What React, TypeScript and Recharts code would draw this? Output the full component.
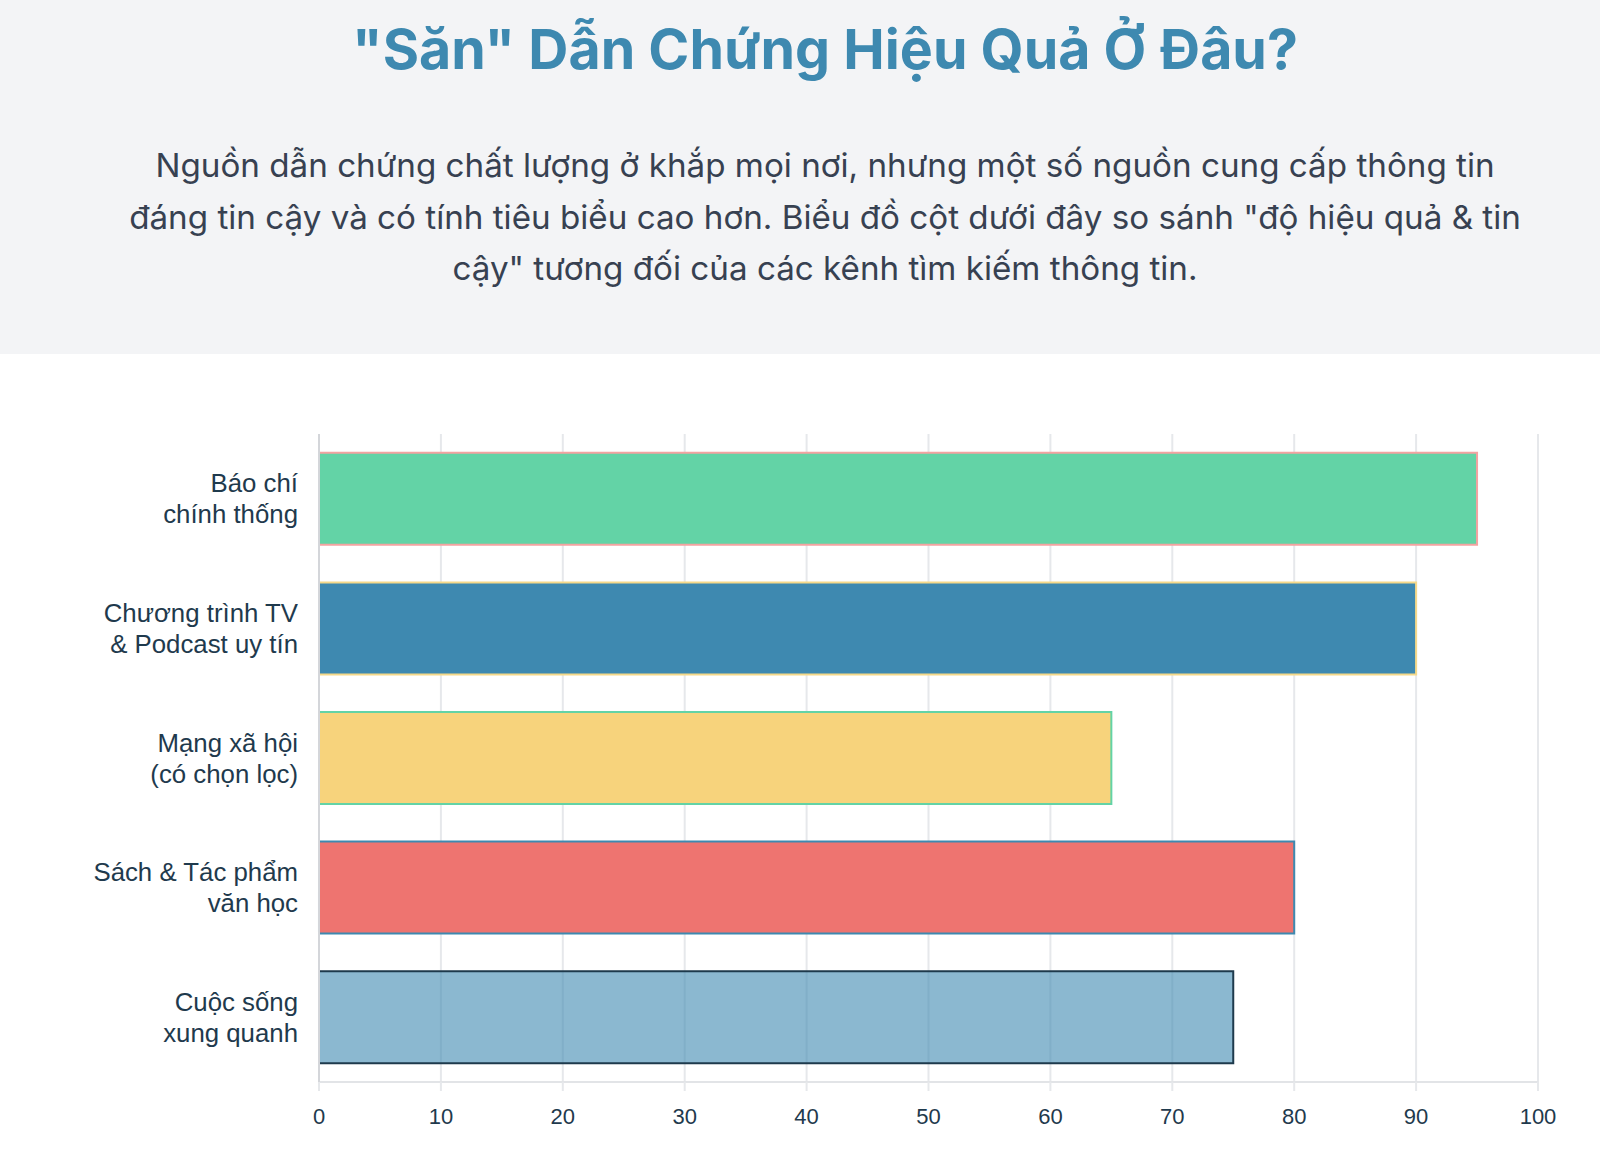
import React from "react";
import { BarChart, Bar, XAxis, YAxis, CartesianGrid, Cell } from "recharts";

const categories: string[][] = [
  ["Báo chí", "chính thống"],
  ["Chương trình TV", "& Podcast uy tín"],
  ["Mạng xã hội", "(có chọn lọc)"],
  ["Sách & Tác phẩm", "văn học"],
  ["Cuộc sống", "xung quanh"],
];
const scores: number[] = [95, 90, 65, 80, 75];
const fillColors: string[] = ["#63d3a6", "#3e89b0", "#f7d37c", "#ee7470", "rgba(62,137,176,0.6)"];
const strokeColors: string[] = ["#f4a3a1", "#f5d98a", "#63d3a6", "#3e89b0", "#1e3a4c"];
const xTicks: number[] = [0, 10, 20, 30, 40, 50, 60, 70, 80, 90, 100];

const data = categories.map((c, i) => ({ key: c.join(" "), lines: c, value: scores[i] }));

const labelFont = "'Helvetica Neue', Helvetica, Arial, 'Liberation Sans', sans-serif";
const textDark = "#1f3a4d";

const YTick = (props: any) => {
  const { x, y, payload } = props;
  const item = data.find((d) => d.key === payload.value);
  const lines = item ? item.lines : [payload.value];
  return (
    <text x={x} y={y} textAnchor="end" fill={textDark} fontSize={25.8} fontFamily={labelFont}>
      {lines.map((l: string, i: number) => (
        <tspan key={i} x={x} dy={i === 0 ? -6.5 : 31}>
          {l}
        </tspan>
      ))}
    </text>
  );
};

export default function App() {
  return (
    <div style={{ position: "absolute", left: 0, top: 0, width: 1600, height: 1156, background: "#ffffff", overflow: "hidden" }}>
      <div
        style={{
          position: "absolute",
          left: 0,
          top: 0,
          width: 1600,
          height: 354,
          background: "#f3f4f6",
        }}
      />
      <div
        style={{
          position: "absolute",
          left: 25,
          top: 2,
          width: 1600,
          textAlign: "center",
          fontFamily: "Inter, sans-serif",
          fontWeight: 700,
          fontSize: 55.5,
          lineHeight: "94px",
          color: "#3e89b0",
        }}
      >
        "Săn" Dẫn Chứng Hiệu Quả Ở Đâu?
      </div>
      <div
        style={{
          position: "absolute",
          left: 25,
          top: 140,
          width: 1600,
          textAlign: "center",
          fontFamily: "Inter, sans-serif",
          fontSize: 33.2,
          lineHeight: "51.5px",
          color: "#374151",
        }}
      >
        <div>Nguồn dẫn chứng chất lượng ở khắp mọi nơi, nhưng một số nguồn cung cấp thông tin</div>
        <div>đáng tin cậy và có tính tiêu biểu cao hơn. Biểu đồ cột dưới đây so sánh "độ hiệu quả &amp; tin</div>
        <div>cậy" tương đối của các kênh tìm kiếm thông tin.</div>
      </div>
      <div style={{ position: "absolute", left: 0, top: 400 }}>
        <BarChart
          width={1600}
          height={740}
          data={data}
          layout="vertical"
          margin={{ top: 34, right: 62, bottom: 18, left: 0 }}
          barCategoryGap="14.5%"
        >
          <CartesianGrid horizontal={false} vertical={true} stroke="#e6e8eb" strokeWidth={2} />
          <XAxis
            type="number"
            domain={[0, 100]}
            ticks={xTicks}
            interval={0}
            height={40}
            axisLine={{ stroke: "#e2e4e7", strokeWidth: 2 }}
            tickLine={{ stroke: "#e6e8eb", strokeWidth: 2 }}
            tickSize={9}
            tick={{ fill: textDark, fontSize: 22, fontFamily: labelFont, dy: 15 }}
          />
          <YAxis
            type="category"
            dataKey="key"
            width={319}
            axisLine={{ stroke: "#d4d6da", strokeWidth: 2 }}
            tickLine={false}
            tick={<YTick />}
            tickMargin={15}
            interval={0}
          />
          <Bar dataKey="value" isAnimationActive={false} strokeWidth={2}>
            {data.map((d, i) => (
              <Cell key={d.key} fill={fillColors[i]} stroke={strokeColors[i]} />
            ))}
          </Bar>
        </BarChart>
      </div>
    </div>
  );
}
